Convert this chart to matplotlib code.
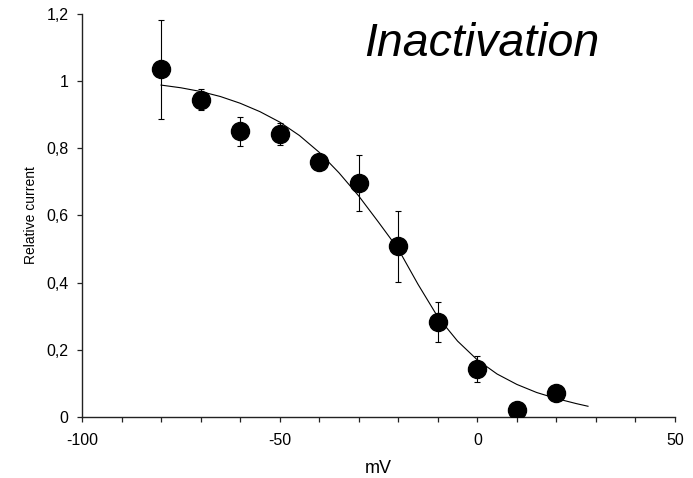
import matplotlib
matplotlib.use("Agg")
import matplotlib.pyplot as plt
from matplotlib.ticker import MultipleLocator, FuncFormatter

plt.rcParams['font.family'] = ['Liberation Sans', 'DejaVu Sans']

# measured points
voltage = [-80, -70, -60, -50, -40, -30, -20, -10, 0, 10, 20]
current = [1.035, 0.945, 0.850, 0.843, 0.758, 0.697, 0.508, 0.283, 0.143, 0.021, 0.070]
current_err = [0.148, 0.030, 0.043, 0.033, 0.010, 0.084, 0.105, 0.059, 0.040, 0.0, 0.0]

# fitted curve
fit_v = [-80, -75, -70, -65, -60, -55, -50, -45, -40, -35, -30, -25, -20,
         -15, -10, -5, 0, 5, 10, 15, 20, 25, 28]
fit_y = [0.988, 0.980, 0.969, 0.954, 0.934, 0.909, 0.878, 0.838, 0.788, 0.727,
         0.658, 0.580, 0.500, 0.395, 0.298, 0.226, 0.170, 0.128, 0.097, 0.073,
         0.055, 0.040, 0.032]

fig = plt.figure(figsize=(6.93, 4.78), dpi=100)
ax = fig.add_axes([0.1183, 0.1276, 0.8557, 0.8434])

ax.plot(fit_v, fit_y, color="black", lw=0.8, zorder=2)
ax.errorbar(voltage, current, yerr=current_err, fmt="none", ecolor="black",
            elinewidth=0.8, capsize=2.5, capthick=0.8, zorder=1)
ax.plot(voltage, current, "o", color="black", markersize=13, zorder=3)

ax.set_xlim(-100, 50)
ax.set_ylim(0, 1.2)
ax.xaxis.set_major_locator(MultipleLocator(50))
ax.xaxis.set_minor_locator(MultipleLocator(10))
ax.yaxis.set_major_locator(MultipleLocator(0.2))

def comma(v, pos):
    s = "%g" % round(v, 2)
    return s.replace(".", ",")

ax.yaxis.set_major_formatter(FuncFormatter(comma))
ax.xaxis.set_major_formatter(FuncFormatter(comma))

for side in ("top", "right"):
    ax.spines[side].set_visible(False)
for side in ("left", "bottom"):
    ax.spines[side].set_linewidth(1.0)
    ax.spines[side].set_color("#222222")

ax.tick_params(axis="both", which="both", direction="out", length=3.8, width=0.9,
               color="#222222")
ax.tick_params(axis="x", labelsize=11.5, pad=8)
ax.tick_params(axis="y", labelsize=11.5, pad=6)

ax.set_xlabel("mV", fontsize=13, labelpad=8)
ax.set_ylabel("Relative current", fontsize=10, labelpad=6)

ax.text(-28.6, 1.075, "Inactivation", fontsize=33.5, style="italic",
        ha="left", va="baseline")

fig.savefig("out.png", dpi=100)
